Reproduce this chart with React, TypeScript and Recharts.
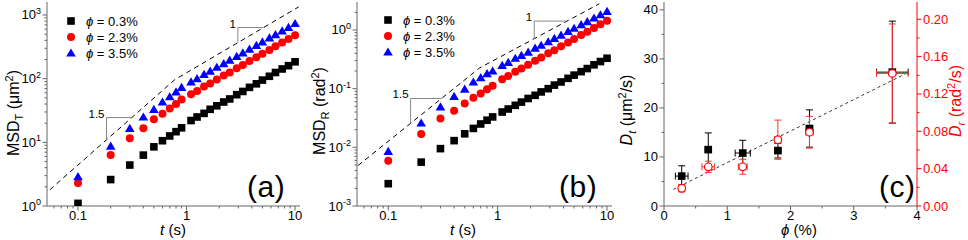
import React from 'react';
import {
  ComposedChart,
  Scatter,
  Line,
  XAxis,
  YAxis,
  ErrorBar,
  Legend,
  ReferenceDot,
} from 'recharts';

const FONT = '"Liberation Sans", Arial, Helvetica, sans-serif';
const FRAME = '#666';
const RED = '#ff0000';

// lag times (s), shared by (a) and (b)
const lagTimes = [
  0.1, 0.2, 0.3, 0.4, 0.5, 0.6, 0.7, 0.8, 0.9, 1.1, 1.25, 1.45, 1.65, 1.9, 2.2, 2.5, 2.9,
  3.3, 3.8, 4.4, 5.0, 5.8, 6.6, 7.6, 8.7, 10,
];

// (a) translational MSD (um^2)
const msdT03 = [1.1, 2.6, 4.4, 6.3, 8.5, 10.6, 12.6, 14.7, 16.9, 22, 25, 28.5, 33, 37.5, 43, 48, 56, 63, 73, 83, 95, 109, 125, 142, 160, 184];
const msdT23 = [2.3, 6.3, 11.6, 16.6, 23, 28, 34, 40, 47, 57, 64, 75, 84, 97, 112, 125, 146, 164, 190, 216, 247, 283, 322, 370, 418, 482];
const msdT35 = [2.9, 8.7, 16.6, 25, 33, 43, 52, 62, 73, 89, 100, 117, 131, 151, 172, 196, 224, 255, 292, 334, 378, 436, 492, 565, 640, 735];

// (b) rotational MSD (rad^2)
const msdR03 = [0.0024, 0.0056, 0.0095, 0.013, 0.017, 0.021, 0.025, 0.029, 0.033, 0.04, 0.045, 0.052, 0.059, 0.068, 0.077, 0.088, 0.1, 0.115, 0.13, 0.15, 0.17, 0.195, 0.22, 0.255, 0.29, 0.33];
const msdR23 = [0.0059, 0.0168, 0.031, 0.042, 0.056, 0.07, 0.083, 0.098, 0.112, 0.145, 0.165, 0.195, 0.22, 0.255, 0.3, 0.34, 0.4, 0.45, 0.53, 0.61, 0.7, 0.82, 0.93, 1.08, 1.25, 1.44];
const msdR35 = [0.0085, 0.026, 0.049, 0.074, 0.098, 0.13, 0.154, 0.18, 0.2, 0.25, 0.28, 0.33, 0.37, 0.42, 0.49, 0.55, 0.63, 0.72, 0.82, 0.95, 1.07, 1.23, 1.39, 1.6, 1.82, 2.08];

const legendLabels = ['0.3%', '2.3%', '3.5%'];

// dashed power-law guides (t^1.5 then t^1)
const guideA_t = [0.055, 0.78, 10.8];
const guideA_v = [1.8, 96.5, 1340];
const guideB_t = [0.053, 0.68, 8.5];
const guideB_v = [0.0049, 0.224, 2.8];

// slope triangles, corner = middle point
const triA15_t = [0.183, 0.183, 0.311];
const triA15_v = [11, 24.5, 24.5];
const triA1_t = [2.97, 2.97, 5.13];
const triA1_v = [368, 636, 636];
const triB15_t = [0.16, 0.16, 0.308];
const triB15_v = [0.0256, 0.068, 0.068];
const triB1_t = [2.16, 2.16, 4.3];
const triB1_v = [0.71, 1.42, 1.42];

// (c) diffusion coefficients vs volume fraction
const phi = [0.28, 0.7, 1.245, 1.8, 2.3, 3.61];
const dTrans = [6.1, 11.5, 10.8, 11.3, 15.8, 27.3];
const dTransErr = [2.1, 3.4, 2.6, 1.5, 3.8, 10.4];
const phiErrT = [0.1, 0.05, 0.12, 0.05, 0.05, 0.25];
const dRot = [0.019, 0.042, 0.042, 0.071, 0.079, 0.142];
const dRotErr = [0.004, 0.006, 0.008, 0.021, 0.017, 0.053];
const phiErrR = [0.05, 0.1, 0.07, 0.05, 0.06, 0.25];
const fitPhi = [0.15, 3.84];
const fitD = [3.4, 27.1];

// ticks
const timeTicks = [0.06, 0.07, 0.08, 0.09, 0.1, 0.2, 0.3, 0.4, 0.5, 0.6, 0.7, 0.8, 0.9, 1, 2, 3, 4, 5, 6, 7, 8, 9, 10];
const timeMajor = [0.1, 1, 10];
const msdTTicks = [1, 2, 3, 4, 5, 6, 7, 8, 9, 10, 20, 30, 40, 50, 60, 70, 80, 90, 100, 200, 300, 400, 500, 600, 700, 800, 900, 1000];
const msdTMajor = [1, 10, 100, 1000];
const msdRTicks = [
  0.001, 0.002, 0.003, 0.004, 0.005, 0.006, 0.007, 0.008, 0.009, 0.01, 0.02, 0.03, 0.04, 0.05, 0.06, 0.07,
  0.08, 0.09, 0.1, 0.2, 0.3, 0.4, 0.5, 0.6, 0.7, 0.8, 0.9, 1, 2,
];
const msdRMajor = [0.001, 0.01, 0.1, 1];
const phiTicks = [0, 0.5, 1, 1.5, 2, 2.5, 3, 3.5, 4];
const phiMajor = [0, 1, 2, 3, 4];
const dtTicks = [0, 5, 10, 15, 20, 25, 30, 35, 40];
const dtMajor = [0, 10, 20, 30, 40];
const drTicks = [0, 0.02, 0.04, 0.06, 0.08, 0.1, 0.12, 0.14, 0.16, 0.18, 0.2];
const drMajor = [0, 0.04, 0.08, 0.12, 0.16, 0.2];

const timeDomain: [number, number] = [0.0518, 11.1];

const pts = (xs: number[], ys: number[]) => xs.map((t, i) => ({ t, v: ys[i] }));

type Side = 'bottom' | 'top' | 'left' | 'right';

const isIn = (list: number[], v: number) =>
  list.some((m) => Math.abs(m - v) <= 1e-9 + 1e-6 * Math.abs(m));

function makeTick(
  side: Side,
  major: number[],
  opts: { inward?: boolean; fmt?: (v: number) => React.ReactNode; color?: string } = {},
) {
  const { inward = false, fmt, color = '#000' } = opts;
  const lineColor = color === '#000' ? FRAME : color;
  return (props: any) => {
    const { x, y, payload } = props;
    const v = payload.value as number;
    const big = isIn(major, v);
    const len = big ? 4.5 : 2.5;
    const out = inward ? -1 : 1;
    let x2 = x;
    let y2 = y;
    if (side === 'bottom') y2 = y + out * len;
    if (side === 'top') y2 = y - out * len;
    if (side === 'left') x2 = x - out * len;
    if (side === 'right') x2 = x + out * len;
    let label: React.ReactNode = null;
    if (fmt && big) {
      const common = { fontFamily: FONT, fontSize: 13, fill: color };
      if (side === 'bottom') {
        label = <text x={x} y={y + 14} textAnchor="middle" {...common}>{fmt(v)}</text>;
      } else if (side === 'left') {
        label = <text x={x - 6} y={y + 4.5} textAnchor="end" {...common}>{fmt(v)}</text>;
      } else if (side === 'right') {
        label = <text x={x + 6} y={y + 4.5} textAnchor="start" {...common}>{fmt(v)}</text>;
      }
    }
    return (
      <g>
        <line x1={x} y1={y} x2={x2} y2={y2} stroke={lineColor} strokeWidth={1} />
        {label}
      </g>
    );
  };
}

const pow10 = (v: number) => (
  <>
    <tspan>10</tspan>
    <tspan dy={-5.5} fontSize={9}>{Math.round(Math.log10(v))}</tspan>
  </>
);
const plain = (v: number) => String(v);

const Square = (p: any) => <rect x={p.cx - 3.8} y={p.cy - 3.8} width={7.6} height={7.6} fill="#000" />;
const RedDot = (p: any) => <circle cx={p.cx} cy={p.cy} r={4} fill={RED} />;
const Tri = (p: any) => (
  <polygon
    points={`${p.cx},${p.cy - 4.6} ${p.cx + 4.8},${p.cy + 3.6} ${p.cx - 4.8},${p.cy + 3.6}`}
    fill="#0000ff"
  />
);
const OpenDot = (p: any) => (
  <circle cx={p.cx} cy={p.cy} r={3.8} fill="#fff" stroke={RED} strokeWidth={1.2} />
);
const markers = [Square, RedDot, Tri];

function LegendBox() {
  return (
    <div style={{ fontFamily: FONT, fontSize: 13, color: '#000' }}>
      {legendLabels.map((lab, i) => {
        const M = markers[i];
        return (
          <div key={lab} style={{ display: 'flex', alignItems: 'center', height: 16 }}>
            <svg width={10} height={10} style={{ overflow: 'visible' }}>
              <M cx={5} cy={5} />
            </svg>
            <span style={{ marginLeft: 10, whiteSpace: 'nowrap' }}>
              <i>ϕ</i> = {lab}
            </span>
          </div>
        );
      })}
    </div>
  );
}

function VTitle({ bx, cy, color = '#000', node }: any) {
  return (
    <text
      transform={`translate(${bx} ${cy}) rotate(-90)`}
      textAnchor="middle"
      fontFamily={FONT}
      fontSize={16}
      fill={color}
    >
      {node}
    </text>
  );
}

function HTitle({ cx, node }: any) {
  return (
    <text x={cx} y={235} textAnchor="middle" fontFamily={FONT} fontSize={15} fill="#000">
      {node}
    </text>
  );
}

function CornerText({ viewBox, text }: any) {
  if (!viewBox) return null;
  return (
    <text x={viewBox.x - 2} y={viewBox.y} textAnchor="end" fontFamily={FONT} fontSize={11.5} fill="#000">
      {text}
    </text>
  );
}

const tagStyle = (left: number): React.CSSProperties => ({
  position: 'absolute',
  left,
  top: 172,
  fontFamily: FONT,
  fontSize: 30,
  lineHeight: 1,
  letterSpacing: 0.5,
  color: '#000',
});

interface Tri3 {
  t: number[];
  v: number[];
  text: string;
}

interface MsdPanelProps {
  left: number;
  width: number;
  margin: { top: number; right: number; bottom: number; left: number };
  yWidth: number;
  yDomain: [number, number];
  yTicks: number[];
  yMajor: number[];
  series: number[][];
  guideT: number[];
  guideV: number[];
  tris: Tri3[];
  yTitle: React.ReactElement;
  xTitleX: number;
  legendLeft: number;
  legendTop: number;
  tag: string;
  tagLeft: number;
}

function MsdPanel(p: MsdPanelProps) {
  const data = p.series.map((ys) => pts(lagTimes, ys));
  return (
    <div style={{ position: 'absolute', left: p.left, top: 0 }}>
      <ComposedChart width={p.width} height={240} margin={p.margin}>
        <XAxis
          dataKey="t"
          type="number"
          scale="log"
          domain={timeDomain}
          allowDataOverflow
          ticks={timeTicks}
          interval={0}
          tickSize={0}
          tickMargin={0}
          tickLine={false}
          axisLine={{ stroke: FRAME }}
          tick={makeTick('bottom', timeMajor, { fmt: plain })}
          height={34}
          label={<HTitle cx={p.xTitleX} node={<><tspan fontStyle="italic">t</tspan> (s)</>} />}
        />
        <XAxis
          xAxisId="top"
          orientation="top"
          type="number"
          scale="log"
          domain={timeDomain}
          allowDataOverflow
          ticks={timeTicks}
          interval={0}
          tickSize={0}
          tickMargin={0}
          tickLine={false}
          axisLine={{ stroke: FRAME }}
          tick={makeTick('top', timeMajor, { inward: true })}
          height={0}
        />
        <YAxis
          dataKey="v"
          type="number"
          scale="log"
          domain={p.yDomain}
          allowDataOverflow
          ticks={p.yTicks}
          interval={0}
          tickSize={0}
          tickMargin={0}
          tickLine={false}
          axisLine={{ stroke: FRAME }}
          tick={makeTick('left', p.yMajor, { fmt: pow10 })}
          width={p.yWidth}
          label={p.yTitle}
        />
        <YAxis
          yAxisId="r"
          orientation="right"
          type="number"
          scale="log"
          domain={p.yDomain}
          allowDataOverflow
          ticks={p.yTicks}
          interval={0}
          tickSize={0}
          tickMargin={0}
          tickLine={false}
          axisLine={{ stroke: FRAME }}
          tick={makeTick('right', p.yMajor, { inward: true })}
          width={0}
        />
        <Line
          data={pts(p.guideT, p.guideV)}
          dataKey="v"
          stroke="#000"
          strokeWidth={1}
          strokeDasharray="5 4"
          dot={false}
          legendType="none"
          isAnimationActive={false}
        />
        {p.tris.map((tr) => (
          <Line
            key={tr.text}
            data={pts(tr.t, tr.v)}
            dataKey="v"
            stroke="#888"
            strokeWidth={1}
            dot={false}
            legendType="none"
            isAnimationActive={false}
          />
        ))}
        {p.tris.map((tr) => (
          <ReferenceDot
            key={'l' + tr.text}
            x={tr.t[1]}
            y={tr.v[1]}
            r={0}
            fill="none"
            stroke="none"
            label={<CornerText text={tr.text} />}
          />
        ))}
        <Scatter data={data[0]} shape={Square} isAnimationActive={false} />
        <Scatter data={data[1]} shape={RedDot} isAnimationActive={false} />
        <Scatter data={data[2]} shape={Tri} isAnimationActive={false} />
        <Legend
          content={<LegendBox />}
          layout="vertical"
          align="center"
          verticalAlign="middle"
          wrapperStyle={{ left: p.legendLeft, top: p.legendTop, width: 'auto' }}
        />
      </ComposedChart>
      <div style={tagStyle(p.tagLeft)}>{p.tag}</div>
    </div>
  );
}

function DiffusionPanel() {
  const black = phi.map((x, i) => ({ x, y: dTrans[i], ey: dTransErr[i], ex: phiErrT[i] }));
  const red = phi.map((x, i) => ({ x, y: dRot[i], ey: dRotErr[i], ex: phiErrR[i] }));
  const fit = fitPhi.map((x, i) => ({ x, y: fitD[i] }));
  return (
    <div style={{ position: 'absolute', left: 615, top: 0 }}>
      <ComposedChart width={353} height={240} margin={{ top: 2, right: 6, bottom: 0, left: 9 }}>
        <XAxis
          dataKey="x"
          type="number"
          domain={[0, 4]}
          allowDataOverflow
          ticks={phiTicks}
          interval={0}
          tickSize={0}
          tickMargin={0}
          tickLine={false}
          axisLine={{ stroke: FRAME }}
          tick={makeTick('bottom', phiMajor, { fmt: plain })}
          height={34}
          label={<HTitle cx={184} node={<><tspan fontStyle="italic">ϕ</tspan> (%)</>} />}
        />
        <XAxis
          xAxisId="top"
          orientation="top"
          type="number"
          domain={[0, 4]}
          allowDataOverflow
          ticks={phiTicks}
          interval={0}
          tickSize={0}
          tickMargin={0}
          tickLine={false}
          axisLine={{ stroke: FRAME }}
          tick={makeTick('top', phiMajor, { inward: true })}
          height={0}
        />
        <YAxis
          dataKey="y"
          type="number"
          domain={[0, 41.6]}
          allowDataOverflow
          ticks={dtTicks}
          interval={0}
          tickSize={0}
          tickMargin={0}
          tickLine={false}
          axisLine={{ stroke: FRAME }}
          tick={makeTick('left', dtMajor, { fmt: plain })}
          width={40}
          label={
            <VTitle
              bx={17}
              cy={110}
              node={
                <>
                  <tspan fontStyle="italic">D</tspan>
                  <tspan fontStyle="italic" dy={4} fontSize={11}>t</tspan>
                  <tspan dy={-4}> (μm</tspan>
                  <tspan dy={-6} fontSize={11}>2</tspan>
                  <tspan dy={6}>/s)</tspan>
                </>
              }
            />
          }
        />
        <YAxis
          yAxisId="r"
          orientation="right"
          dataKey="y"
          type="number"
          domain={[0, 0.2185]}
          allowDataOverflow
          ticks={drTicks}
          interval={0}
          tickSize={0}
          tickMargin={0}
          tickLine={false}
          axisLine={{ stroke: RED }}
          tick={makeTick('right', drMajor, { fmt: (v) => v.toFixed(2), color: RED })}
          width={45}
          label={
            <VTitle
              bx={346}
              cy={101}
              color={RED}
              node={
                <>
                  <tspan fontStyle="italic">D</tspan>
                  <tspan fontStyle="italic" dy={4} fontSize={11}>r</tspan>
                  <tspan dy={-4}> (rad</tspan>
                  <tspan dy={-6} fontSize={11}>2</tspan>
                  <tspan dy={6}>/s)</tspan>
                </>
              }
            />
          }
        />
        <Line
          data={fit}
          dataKey="y"
          stroke="#333"
          strokeWidth={1}
          strokeDasharray="3 3"
          dot={false}
          legendType="none"
          isAnimationActive={false}
        />
        <Scatter data={black} shape={Square} isAnimationActive={false}>
          <ErrorBar dataKey="ey" direction="y" width={3.5} stroke="#000" strokeWidth={1} />
          <ErrorBar dataKey="ex" direction="x" width={3.5} stroke="#000" strokeWidth={1} />
        </Scatter>
        <Scatter data={red} yAxisId="r" shape={OpenDot} isAnimationActive={false}>
          <ErrorBar dataKey="ey" direction="y" width={3.5} stroke="#f33" strokeWidth={1} />
          <ErrorBar dataKey="ex" direction="x" width={3.5} stroke="#f33" strokeWidth={1} />
        </Scatter>
      </ComposedChart>
      <div style={tagStyle(264)}>(c)</div>
    </div>
  );
}

export default function App() {
  return (
    <div
      style={{
        position: 'absolute',
        left: 0,
        top: 0,
        width: 968,
        height: 240,
        background: '#fff',
        overflow: 'hidden',
      }}
    >
      <MsdPanel
        left={0}
        width={318}
        margin={{ top: 2, right: 18, bottom: 0, left: 7 }}
        yWidth={40}
        yDomain={[1, 1600]}
        yTicks={msdTTicks}
        yMajor={msdTMajor}
        series={[msdT03, msdT23, msdT35]}
        guideT={guideA_t}
        guideV={guideA_v}
        tris={[
          { t: triA15_t, v: triA15_v, text: '1.5' },
          { t: triA1_t, v: triA1_v, text: '1' },
        ]}
        yTitle={
          <VTitle
            bx={18.5}
            cy={113}
            node={
              <>
                <tspan>MSD</tspan>
                <tspan dy={4} fontSize={11}>T</tspan>
                <tspan dy={-4}> (μm</tspan>
                <tspan dy={-6} fontSize={11}>2</tspan>
                <tspan dy={6}>)</tspan>
              </>
            }
          />
        }
        xTitleX={173}
        legendLeft={66}
        legendTop={13}
        tag="(a)"
        tagLeft={247}
      />
      <MsdPanel
        left={300}
        width={318}
        margin={{ top: 2, right: 6, bottom: 0, left: 7 }}
        yWidth={50}
        yDomain={[0.001, 3]}
        yTicks={msdRTicks}
        yMajor={msdRMajor}
        series={[msdR03, msdR23, msdR35]}
        guideT={guideB_t}
        guideV={guideB_v}
        tris={[
          { t: triB15_t, v: triB15_v, text: '1.5' },
          { t: triB1_t, v: triB1_v, text: '1' },
        ]}
        yTitle={
          <VTitle
            bx={25}
            cy={111}
            node={
              <>
                <tspan>MSD</tspan>
                <tspan dy={4} fontSize={11}>R</tspan>
                <tspan dy={-4}> (rad</tspan>
                <tspan dy={-6} fontSize={11}>2</tspan>
                <tspan dy={6}>)</tspan>
              </>
            }
          />
        }
        xTitleX={163}
        legendLeft={83}
        legendTop={12}
        tag="(b)"
        tagLeft={259}
      />
      <DiffusionPanel />
    </div>
  );
}
